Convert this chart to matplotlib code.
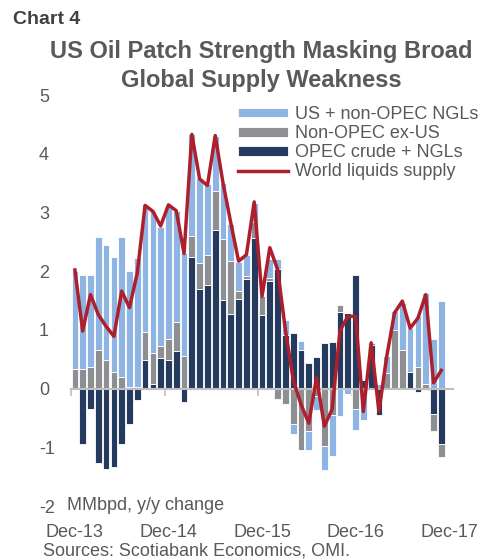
import numpy as np
import matplotlib
matplotlib.use("Agg")
import matplotlib.pyplot as plt

plt.rcParams['font.family'] = ['Liberation Sans', 'DejaVu Sans']
plt.rcParams['axes.unicode_minus'] = False

# monthly y/y change, Dec-13 .. Nov-17 (MMbpd)
us_ngl = [1.68, 1.61, 1.57, 1.93, 1.97, 1.96, 2.39, 1.99, 2.20, 2.16, 2.41, 2.03,
          2.28, 1.89, 1.76, 1.73, 1.45, 1.21, 0.94, 0.95, 0.63, 0.48, 0.36, 0.32,
          0.00, 0.32, 0.16, 0.25, -0.17, 0.16, -0.31, -0.24, -0.42, -0.69, -0.47, -0.10,
          -0.36, -0.53, 0.00, 0.07, 0.29, 0.33, 0.80, 0.74, 0.86, 1.55, 0.84, 1.49]
non_opec = [0.33, 0.33, 0.37, 0.65, 0.48, 0.28, 0.20, 0.02, 0.02, 0.48, 0.54, 0.20,
            0.36, 0.49, 0.55, 0.36, 0.44, 0.50, 0.66, 1.04, 0.90, 0.15, 0.05, 0.27,
            0.31, 0.05, -0.18, -0.26, -0.60, -1.04, -0.73, -0.12, -0.97, -0.45, 0.13, 0.00,
            -0.35, 0.00, 0.03, 0.00, 0.27, 0.99, 0.66, 0.00, 0.37, 0.08, -0.30, -0.22]
opec = [0.00, -0.94, -0.35, -1.27, -1.37, -1.34, -0.94, -0.60, -0.19, 0.48, 0.07, 0.52,
        0.48, 0.64, -0.23, 2.24, 1.70, 1.77, 2.70, 1.51, 1.27, 1.52, 1.87, 2.57,
        1.26, 1.83, 2.04, 0.92, 0.94, 0.65, 0.44, 0.54, 0.78, 0.80, 1.30, 1.28,
        1.94, 0.15, 0.75, -0.45, 0.00, 0.00, 0.00, 0.29, -0.05, -0.03, -0.43, -0.95]
world = [2.02, 0.98, 1.60, 1.26, 1.06, 0.89, 1.66, 1.38, 1.97, 3.12, 3.02, 2.77,
         3.13, 3.03, 2.30, 4.33, 3.57, 3.46, 4.31, 3.50, 2.82, 2.17, 2.28, 3.18,
         1.57, 2.40, 2.03, 1.00, 0.15, -0.27, -0.59, 0.19, -0.64, -0.35, 0.98, 1.23,
         1.23, -0.39, 0.78, -0.39, 0.55, 1.29, 1.49, 1.03, 1.20, 1.60, 0.10, 0.31]
tick_labels = ['Dec-13', 'Dec-14', 'Dec-15', 'Dec-16', 'Dec-17']

c_lb = '#8EB4E3'
c_gray = '#8E8F92'
c_navy = '#243A5E'
c_red = '#AE1F2C'
txt = '#595959'

fig = plt.figure(figsize=(4.89, 5.59), dpi=100)
ax = fig.add_axes([0.1452, 0.0948, 0.7812, 0.7352])

x = np.arange(len(world))
pos_bot = np.zeros(len(x))
neg_bot = np.zeros(len(x))
handles = []
for vals, col, lab in [(opec, c_navy, 'OPEC crude + NGLs'),
                       (non_opec, c_gray, 'Non-OPEC ex-US'),
                       (us_ngl, c_lb, 'US + non-OPEC NGLs')]:
    v = np.array(vals)
    bot = np.where(v >= 0, pos_bot, neg_bot)
    b = ax.bar(x, v, bottom=bot, width=0.86, color=col, edgecolor='white', linewidth=0.6, label=lab, zorder=2)
    pos_bot += np.where(v >= 0, v, 0)
    neg_bot += np.where(v < 0, v, 0)
    handles.append(b)
ln, = ax.plot(x, world, color=c_red, lw=2.5, zorder=3, label='World liquids supply')

ax.set_xlim(-0.5, 48.5)
ax.set_ylim(-2, 5)
ax.set_yticks(range(-2, 6))
ax.tick_params(axis='y', length=0, pad=23, labelsize=13, labelcolor=txt)
for t in ax.get_yticklabels():
    t.set_horizontalalignment('left')
for s in ['top', 'right', 'left']:
    ax.spines[s].set_visible(False)
ax.spines['bottom'].set_position(('data', 0))
ax.spines['bottom'].set_color('#BFBFBF')
ax.spines['bottom'].set_linewidth(1.5)
ax.set_xticks([-0.5, 11.5, 23.5, 35.5, 47.5])
ax.set_xticklabels([])
ax.tick_params(axis='x', direction='out', length=5, width=1.2, color='#BFBFBF')

sec = ax.secondary_xaxis('bottom')
sec.set_xticks(np.arange(0, 49, 12))
sec.set_xticklabels(tick_labels)
sec.tick_params(length=0, pad=13, labelsize=13, labelcolor=txt)
sec.spines['bottom'].set_visible(False)

leg = fig.legend(handles=[handles[2], handles[1], handles[0], ln],
                 labels=['US + non-OPEC NGLs', 'Non-OPEC ex-US', 'OPEC crude + NGLs', 'World liquids supply'],
                 loc='upper left', bbox_to_anchor=(238 / 489, 1 - 106 / 559), frameon=False,
                 fontsize=13, handlelength=2.75, handleheight=0.45, handletextpad=0.4,
                 labelspacing=0.12, borderpad=0, borderaxespad=0)
for t in leg.get_texts():
    t.set_color(txt)

fig.text(13 / 489, 1 - 20 / 559, 'Chart 4', fontsize=14, fontweight='bold', color='#404040', va='center')
fig.text(261 / 489, 1 - 52 / 559, 'US Oil Patch Strength Masking Broad', fontsize=17,
         fontweight='bold', color=txt, ha='center', va='center')
fig.text(261 / 489, 1 - 80 / 559, 'Global Supply Weakness', fontsize=17,
         fontweight='bold', color=txt, ha='center', va='center')
fig.text(67 / 489, 1 - 506 / 559, 'MMbpd, y/y change', fontsize=13, color=txt, va='center')
fig.text(43 / 489, 1 - 551 / 559, 'Sources: Scotiabank Economics, OMI.', fontsize=13, color=txt, va='center')

fig.savefig('out.png', dpi=100)
